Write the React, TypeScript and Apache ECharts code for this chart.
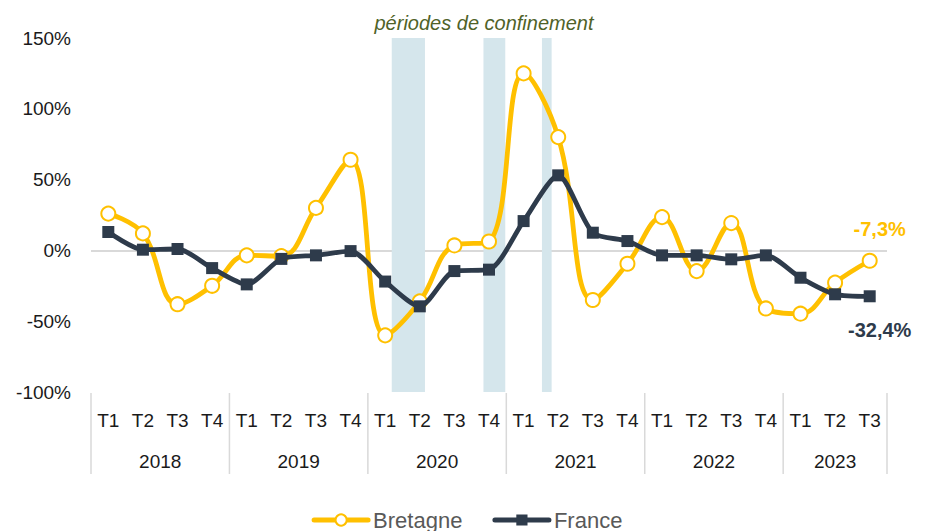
import React, { useEffect, useRef } from 'react';
import * as echarts from 'echarts';

const quarters = [
  'T1', 'T2', 'T3', 'T4',
  'T1', 'T2', 'T3', 'T4',
  'T1', 'T2', 'T3', 'T4',
  'T1', 'T2', 'T3', 'T4',
  'T1', 'T2', 'T3', 'T4',
  'T1', 'T2', 'T3',
];
const years = ['2018', '2019', '2020', '2021', '2022', '2023'];
const quartersPerYear = [4, 4, 4, 4, 4, 3];

const bretagne = [26, 12, -38, -25, -3.5, -4, 30, 64, -60, -36, 3.5, 6.3, 125, 80, -35, -9.4, 23.5, -14.6, 19.3, -41, -44.7, -22.8, -7.3];
const france = [13, 0.5, 1, -12.5, -24, -6, -3.5, -0.5, -22, -39.5, -14.6, -13.6, 20.7, 53, 12.5, 6.6, -3.5, -3.5, -6.3, -3.5, -19.3, -31, -32.4];

// lockdown periods, in quarters counted from the start of 2018
const confinements = [
  [8.69, 9.65],
  [11.34, 11.97],
  [13.03, 13.31],
];

const yTicks = [-100, -50, 0, 50, 100, 150];

const FONT = '"Liberation Sans", Arial, sans-serif';
const ORANGE = '#FFC000';
const NAVY = '#2E3B4B';

const fmtPct = (v: number) => v.toFixed(1).replace('.', ',') + '%';

export default function App() {
  const ref = useRef<HTMLDivElement>(null);

  useEffect(() => {
    if (!ref.current) return;
    const chart = echarts.init(ref.current, null, { renderer: 'svg' });

    const boundaries: number[] = [0];
    const yearCenters: Record<string, string> = {};
    quartersPerYear.forEach((n, i) => {
      const start = boundaries[boundaries.length - 1];
      yearCenters[String(start + n / 2)] = years[i];
      boundaries.push(start + n);
    });
    const total = boundaries[boundaries.length - 1];

    const last = quarters.length - 1;
    const bretData = bretagne.map((v, i) =>
      i === last
        ? {
            value: v,
            label: {
              show: true,
              position: 'top',
              distance: 14,
              offset: [10, 0],
              formatter: () => fmtPct(v),
              color: ORANGE,
              fontWeight: 'bold',
              fontSize: 20,
              fontFamily: FONT,
            },
          }
        : v
    );
    const franceData = france.map((v, i) =>
      i === last
        ? {
            value: v,
            label: {
              show: true,
              position: 'bottom',
              distance: 18,
              offset: [10, 0],
              formatter: () => fmtPct(v),
              color: NAVY,
              fontWeight: 'bold',
              fontSize: 20,
              fontFamily: FONT,
            },
          }
        : v
    );

    const yMin = yTicks[0];
    const yMax = yTicks[yTicks.length - 1];

    chart.setOption({
      animation: false,
      textStyle: { fontFamily: FONT },
      grid: { left: 91, right: 47, top: 38, bottom: 139, containLabel: false },
      graphic: [
        {
          type: 'text',
          x: 484,
          y: 23,
          style: {
            text: 'périodes de confinement',
            fill: '#4F6228',
            font: `italic 20px ${FONT}`,
            textAlign: 'center',
            textVerticalAlign: 'middle',
          },
        },
      ],
      legend: {
        data: ['Bretagne', 'France'],
        top: 504,
        left: 'center',
        itemWidth: 54,
        itemHeight: 14,
        itemGap: 30,
        lineStyle: { width: 5, cap: 'round' },
        textStyle: { color: '#595959', fontSize: 22, fontFamily: FONT },
      },
      xAxis: [
        {
          type: 'category',
          data: quarters,
          boundaryGap: true,
          position: 'bottom',
          axisLine: { show: false },
          axisTick: { show: false },
          axisLabel: { color: '#1a1a1a', fontSize: 19, margin: 19, interval: 0, fontFamily: FONT },
        },
        {
          type: 'value',
          min: 0,
          max: total,
          interval: 0.5,
          position: 'bottom',
          axisLine: { show: false },
          axisTick: { show: false },
          splitLine: { show: false },
          axisLabel: {
            color: '#1a1a1a',
            fontSize: 19,
            margin: 60,
            fontFamily: FONT,
            showMinLabel: true,
            showMaxLabel: true,
            formatter: (v: number) => yearCenters[String(v)] || '',
          },
        },
      ],
      yAxis: {
        type: 'value',
        min: yMin,
        max: yMax,
        interval: 50,
        axisLine: { show: false },
        axisTick: { show: false },
        axisLabel: {
          color: '#1a1a1a',
          fontSize: 19,
          margin: 20,
          fontFamily: FONT,
          formatter: (v: number) => `${v}%`,
        },
        splitLine: {
          show: true,
          lineStyle: {
            color: yTicks.map((t) => (t === 0 ? '#D9D9D9' : 'rgba(0,0,0,0)')),
            width: 2,
          },
        },
      },
      series: [
        {
          type: 'custom',
          name: 'confinement',
          xAxisIndex: 1,
          yAxisIndex: 0,
          silent: true,
          z: 0,
          data: confinements.map((c) => [c[0], c[1], yMin, yMax]),
          encode: { x: [0, 1], y: [2, 3] },
          renderItem: (params: any, api: any) => {
            const a = api.coord([api.value(0), yMax]);
            const b = api.coord([api.value(1), yMin]);
            return {
              type: 'rect',
              shape: { x: a[0], y: a[1], width: b[0] - a[0], height: b[1] - a[1] },
              style: { fill: '#D5E6EC' },
            };
          },
        },
        {
          type: 'custom',
          name: 'separators',
          xAxisIndex: 1,
          yAxisIndex: 0,
          silent: true,
          clip: false,
          z: 0,
          data: boundaries.map((b) => [b, yMin]),
          encode: { x: 0, y: 1 },
          renderItem: (params: any, api: any) => {
            const p = api.coord([api.value(0), api.value(1)]);
            return {
              type: 'line',
              shape: { x1: p[0], y1: p[1] + 1, x2: p[0], y2: p[1] + 82 },
              style: { stroke: '#D9D9D9', lineWidth: 1.5 },
            };
          },
        },
        {
          name: 'Bretagne',
          type: 'line',
          data: bretData,
          smooth: 0.4,
          symbol: 'emptyCircle',
          symbolSize: 14,
          z: 3,
          itemStyle: { color: ORANGE, borderWidth: 3 },
          lineStyle: { color: ORANGE, width: 4.8 },
        },
        {
          name: 'France',
          type: 'line',
          data: franceData,
          smooth: 0.25,
          symbol: 'rect',
          symbolSize: 12,
          z: 4,
          itemStyle: { color: NAVY },
          lineStyle: { color: NAVY, width: 4.8 },
        },
      ],
    });

    return () => chart.dispose();
  }, []);

  return (
    <div
      ref={ref}
      style={{ position: 'fixed', left: 0, top: 0, width: 934, height: 531, background: '#fff' }}
    />
  );
}
